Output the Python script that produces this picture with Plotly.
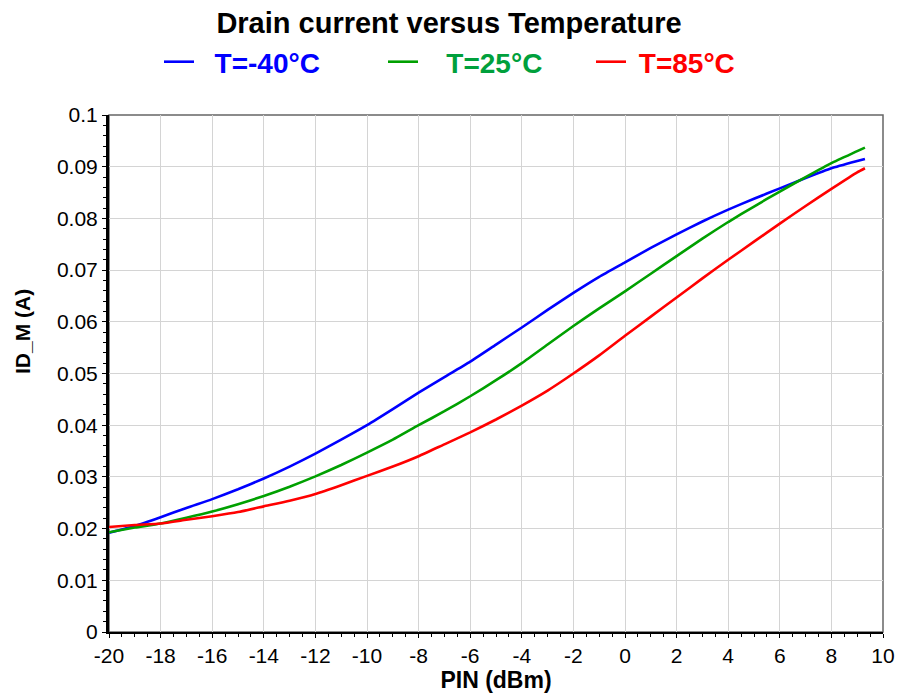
import plotly.graph_objects as go

pin = [-20, -19, -18, -17, -16, -15, -14, -13, -12, -11, -10, -9, -8, -7, -6, -5,
       -4, -3, -2, -1, 0, 1, 2, 3, 4, 5, 6, 7, 8, 9, 9.3]

id_m40 = [0.0192, 0.0205, 0.0222, 0.0240, 0.0257, 0.0276, 0.0297, 0.0320, 0.0345, 0.0372,
          0.0400, 0.0431, 0.0463, 0.0493, 0.0523, 0.0556, 0.0589, 0.0623, 0.0656, 0.0687,
          0.0715, 0.0743, 0.0769, 0.0794, 0.0817, 0.0838, 0.0858, 0.0878, 0.0897, 0.0911, 0.0915]

id_25 = [0.0193, 0.0202, 0.0210, 0.0221, 0.0233, 0.0247, 0.0263, 0.0281, 0.0301, 0.0323,
         0.0347, 0.0372, 0.0400, 0.0427, 0.0456, 0.0487, 0.0520, 0.0556, 0.0592, 0.0626,
         0.0659, 0.0693, 0.0727, 0.0761, 0.0793, 0.0823, 0.0852, 0.0880, 0.0907, 0.0930, 0.0937]

id_85 = [0.0203, 0.0207, 0.0210, 0.0217, 0.0224, 0.0232, 0.0243, 0.0254, 0.0267, 0.0284,
         0.0302, 0.0320, 0.0340, 0.0363, 0.0386, 0.0411, 0.0438, 0.0467, 0.0500, 0.0535,
         0.0573, 0.0610, 0.0647, 0.0684, 0.0720, 0.0755, 0.0790, 0.0824, 0.0857, 0.0889, 0.0897]

series_names = ["T=-40°C", "T=25°C", "T=85°C"]
line_colors = ["#0000ff", "#00a000", "#ff0000"]
text_colors = ["#0000ff", "#00a03c", "#ff0000"]
pads = ["\u00a0\u00a0", "\u00a0\u00a0\u00a0", "\u00a0"]
legend_ids = ["legend", "legend2", "legend3"]
legend_left_px = [159, 383, 591]

x_ticks = list(range(-20, 11, 2))
y_ticks = [0, 0.01, 0.02, 0.03, 0.04, 0.05, 0.06, 0.07, 0.08, 0.09, 0.1]
y_tick_text = ["0", "0.01", "0.02", "0.03", "0.04", "0.05", "0.06", "0.07", "0.08", "0.09", "0.1"]

FONT = "Liberation Sans, Arial, sans-serif"
W, H = 898, 693
ML, MR, MT, MB = 109, 15, 115, 61

fig = go.Figure()
for ys, name, lc, tc, pad, lg in zip([id_m40, id_25, id_85], series_names, line_colors,
                                     text_colors, pads, legend_ids):
    fig.add_trace(go.Scatter(
        x=pin, y=ys, mode="lines",
        line=dict(color=lc, width=2.6, shape="spline", smoothing=0.5),
        name=f'<span style="color:{tc}"><b>{pad}{name}</b></span>',
        legend=lg,
    ))

legend_common = dict(orientation="h", xanchor="left", xref="container",
                     y=1 - 62 / H, yref="container", yanchor="middle",
                     font=dict(size=28, family=FONT), itemwidth=30,
                     bgcolor="rgba(0,0,0,0)")

fig.update_layout(
    width=W, height=H,
    margin=dict(l=ML, r=MR, t=MT, b=MB, autoexpand=False),
    paper_bgcolor="white", plot_bgcolor="white",
    font=dict(family=FONT, color="black"),
    title=dict(text="<b>Drain current versus Temperature</b>", x=0.5, xanchor="center",
               y=1 - 23 / H, yref="container", yanchor="middle",
               font=dict(size=29, family=FONT, color="black")),
    legend=dict(x=legend_left_px[0] / W, **legend_common),
    legend2=dict(x=legend_left_px[1] / W, **legend_common),
    legend3=dict(x=legend_left_px[2] / W, **legend_common),
    showlegend=True,
    shapes=[dict(type="rect", xref="paper", yref="paper", x0=0, x1=1, y0=0, y1=1,
                 line=dict(color="#666666", width=1.5), layer="below")],
    annotations=[dict(text="<b>ID_M (A)</b>", textangle=-90, showarrow=False,
                      xref="paper", yref="paper",
                      x=(22 - ML) / (W - ML - MR), xanchor="center",
                      y=(H - MB - 332) / (H - MT - MB), yanchor="middle",
                      font=dict(size=21, family=FONT, color="black"))],
)

fig.update_xaxes(
    range=[-20, 10], tickvals=x_ticks, ticktext=[str(v) for v in x_ticks],
    showgrid=True, gridcolor="#d4d4d4", gridwidth=1,
    showline=True, linecolor="black", linewidth=2,
    ticks="outside", ticklen=4, tickcolor="black", tickwidth=1,
    minor=dict(dtick=0.5, ticks="outside", ticklen=3, tickcolor="black", showgrid=False),
    tickfont=dict(size=21, family=FONT, color="black"),
    title=dict(text="<b>PIN (dBm)</b>", font=dict(size=23, family=FONT, color="black"), standoff=4),
    zeroline=False, automargin=False,
)
fig.update_yaxes(
    range=[0, 0.1], tickvals=y_ticks, ticktext=y_tick_text,
    showgrid=True, gridcolor="#d4d4d4", gridwidth=1,
    showline=True, linecolor="black", linewidth=3,
    ticks="outside", ticklen=4, tickcolor="black", tickwidth=1,
    minor=dict(dtick=0.002, ticks="outside", ticklen=3, tickcolor="black", showgrid=False),
    tickfont=dict(size=21, family=FONT, color="black"),
    zeroline=False, automargin=False,
)

fig.write_html("out.html")
